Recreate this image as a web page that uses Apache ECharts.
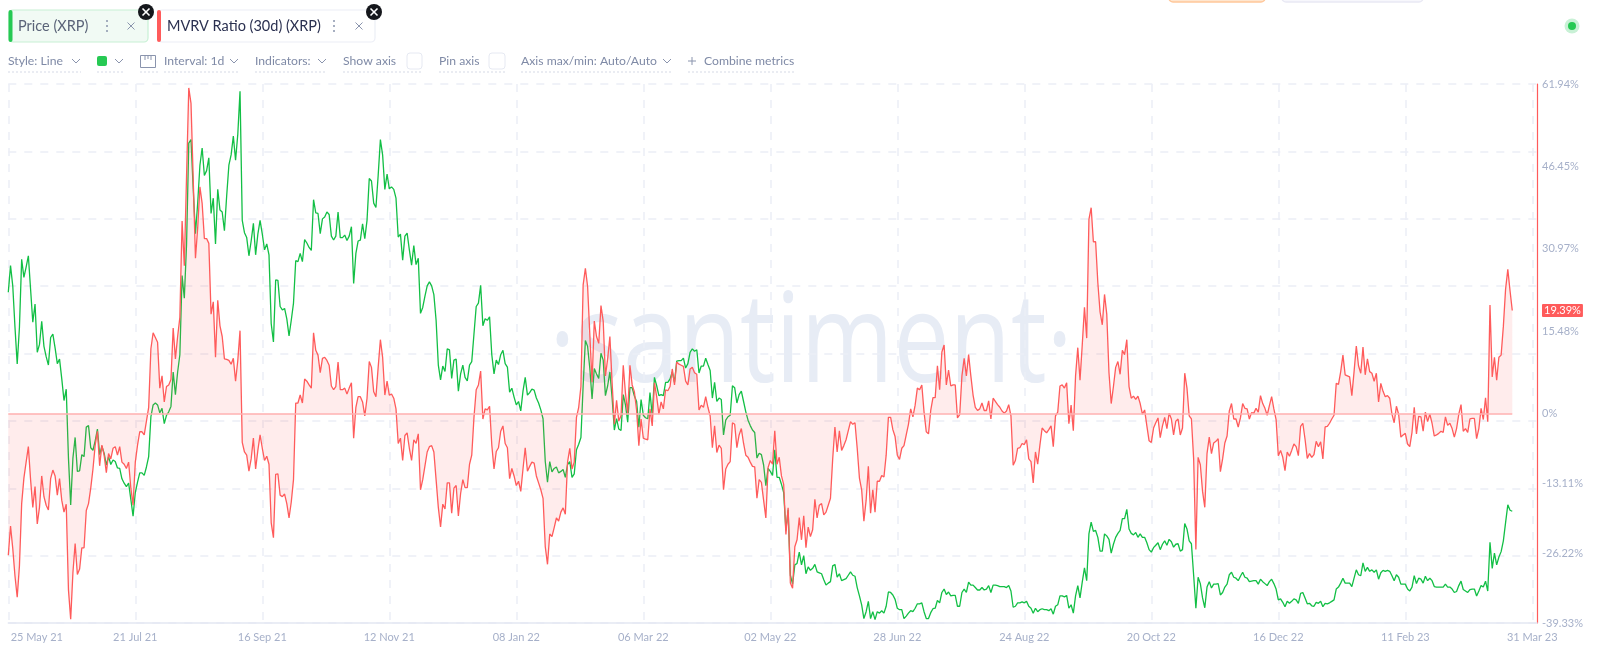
<!DOCTYPE html>
<html>
<head>
<meta charset="utf-8">
<style>html,body{margin:0;padding:0;background:#fff}#c{width:1600px;height:648px}</style>
<script src="https://cdn.jsdelivr.net/npm/echarts@6/dist/echarts.min.js"></script>
</head>
<body>
<div id="c"></div>
<script>
var priceA=[0.972,1.026,0.985,0.901,0.826,0.901,1.039,1.002,1.023,1.046,0.978,0.911,0.948,0.850,0.866,0.913,0.862,0.841,0.824,0.880,0.887,0.859,0.827,0.836,0.796,0.752,0.775,0.635,0.540,0.635,0.677,0.608,0.609,0.642,0.638,0.698,0.701,0.656,0.651,0.670,0.694,0.642,0.659,0.645,0.621,0.638,0.622,0.631,0.628,0.615,0.614,0.593,0.584,0.577,0.584,0.551,0.517,0.565,0.586,0.605,0.605,0.600,0.617,0.638,0.719,0.743,0.747,0.743,0.727,0.736,0.705,0.722,0.729,0.740,0.810,0.764,0.810,0.845,1.006,0.960,1.069,1.275,1.282,1.181,1.091,1.153,1.230,1.265,1.209,1.219,1.245,1.132,1.163,1.070,1.181,1.139,1.135,1.097,1.167,1.230,1.251,1.289,1.240,1.293,1.380,1.118,1.093,1.083,1.046,1.076,1.112,1.048,1.090,1.118,1.090,1.058,1.070,1.048,0.908,0.871,0.997,0.996,0.943,0.936,0.939,0.918,0.883,0.915,0.950,1.036,1.034,1.051,1.034,1.079,1.072,1.063,1.057,1.160,1.133,1.132,1.091,1.121,1.125,1.135,1.130,1.086,1.078,1.086,1.135,1.083,1.083,1.088,1.077,1.086,1.105,0.990,1.051,1.076,1.078,1.111,1.081,1.118,1.203,1.198,1.153,1.144,1.209,1.282,1.251,1.181,1.212,1.182,1.186,1.181,1.163,1.084];
var priceB=[1.090,1.037,1.086,1.092,1.058,1.027,1.067,1.028,1.041,0.929,0.941,0.964,0.985,0.993,0.985,0.967,0.915,0.824,0.794,0.822,0.811,0.857,0.855,0.797,0.834,0.836,0.771,0.806,0.824,0.799,0.792,0.824,0.831,0.887,0.943,0.950,0.986,0.904,0.918,0.915,0.922,0.845,0.806,0.834,0.825,0.845,0.854,0.827,0.820,0.769,0.777,0.759,0.743,0.750,0.731,0.771,0.799,0.763,0.768,0.775,0.773,0.757,0.747,0.733,0.715,0.628,0.586,0.628,0.607,0.614,0.617,0.605,0.608,0.612,0.596,0.622,0.628,0.596,0.603,0.652,0.663,0.677,0.782,0.874,0.862,0.817,0.755,0.817,0.806,0.797,0.848,0.834,0.762,0.782,0.810,0.757,0.692,0.715,0.694,0.691,0.764,0.743,0.708,0.778,0.778,0.761,0.750,0.698,0.754,0.722,0.717,0.715,0.768,0.722,0.799,0.782,0.762,0.764,0.762,0.789,0.789,0.796,0.810,0.789,0.832,0.833,0.833,0.838,0.818,0.827,0.850,0.857,0.852,0.855,0.808,0.822,0.822,0.838,0.825,0.813,0.757,0.789,0.750,0.757,0.754,0.682,0.712,0.719,0.722,0.782,0.778,0.747,0.764,0.771,0.750,0.729,0.712,0.701,0.692,0.687,0.635,0.645,0.642,0.621,0.579,0.614,0.608,0.600,0.652,0.596,0.596,0.582,0.565,0.488,0.530,0.397,0.379,0.418,0.421,0.444];
var priceC=[0.418,0.437,0.400,0.414,0.407,0.411,0.419,0.404,0.402,0.400,0.388,0.377,0.381,0.384,0.416,0.419,0.393,0.400,0.386,0.388,0.390,0.397,0.404,0.397,0.395,0.372,0.355,0.337,0.309,0.323,0.344,0.309,0.323,0.307,0.323,0.320,0.325,0.320,0.334,0.363,0.362,0.357,0.348,0.330,0.327,0.327,0.309,0.314,0.320,0.325,0.323,0.330,0.339,0.339,0.341,0.323,0.309,0.309,0.321,0.329,0.330,0.346,0.341,0.362,0.369,0.358,0.363,0.355,0.356,0.356,0.334,0.334,0.362,0.369,0.362,0.383,0.377,0.377,0.372,0.367,0.367,0.372,0.367,0.369,0.376,0.362,0.377,0.377,0.376,0.374,0.374,0.374,0.372,0.376,0.365,0.332,0.334,0.341,0.341,0.343,0.341,0.344,0.334,0.330,0.320,0.330,0.323,0.327,0.329,0.327,0.327,0.325,0.329,0.318,0.334,0.337,0.355,0.355,0.353,0.356,0.330,0.337,0.320,0.355,0.376,0.351,0.383,0.412,0.386,0.481,0.505,0.486,0.488,0.474,0.446,0.446,0.481,0.477,0.470,0.442,0.460,0.474,0.482,0.488,0.512,0.512,0.531,0.491,0.482,0.479,0.484,0.474,0.481,0.474,0.474,0.463,0.449,0.444,0.453,0.458,0.463,0.449,0.460,0.467,0.458,0.470,0.465,0.454,0.460,0.461,0.446,0.449,0.502,0.491,0.467,0.461,0.397,0.330,0.393];
var priceD=[0.380,0.351,0.331,0.373,0.384,0.371,0.379,0.379,0.380,0.357,0.362,0.373,0.379,0.398,0.403,0.393,0.391,0.386,0.395,0.403,0.393,0.391,0.384,0.385,0.386,0.386,0.379,0.389,0.384,0.380,0.376,0.384,0.389,0.380,0.369,0.347,0.349,0.342,0.333,0.344,0.340,0.344,0.349,0.347,0.340,0.360,0.362,0.351,0.339,0.340,0.335,0.334,0.342,0.340,0.344,0.333,0.340,0.339,0.341,0.344,0.347,0.369,0.373,0.381,0.391,0.381,0.381,0.381,0.374,0.391,0.408,0.398,0.396,0.422,0.405,0.413,0.405,0.408,0.403,0.408,0.389,0.402,0.407,0.405,0.407,0.405,0.396,0.386,0.398,0.393,0.379,0.379,0.379,0.369,0.365,0.373,0.396,0.380,0.391,0.389,0.381,0.395,0.386,0.391,0.386,0.374,0.373,0.373,0.373,0.373,0.379,0.373,0.373,0.369,0.362,0.364,0.376,0.385,0.368,0.365,0.362,0.368,0.369,0.369,0.355,0.365,0.376,0.373,0.385,0.365,0.464,0.411,0.442,0.418,0.434,0.445,0.467,0.504,0.540,0.529,0.527];
var mvrvA=[-26.6,-21.1,-25.3,-30.5,-34.5,-28.6,-16.9,-12.1,-9.1,-6.2,-12.4,-17.6,-13.7,-20.7,-17.6,-11.7,-15.6,-17.2,-18.1,-12.2,-10.6,-11.7,-15.3,-12.2,-16.3,-18.5,-17.0,-33.1,-38.6,-29.9,-24.4,-30.2,-29.2,-25.2,-25.2,-18.2,-16.9,-14.0,-10.4,-5.9,-3.3,-9.8,-5.9,-7.8,-11.1,-7.5,-8.5,-6.5,-6.2,-7.8,-6.2,-9.1,-9.5,-10.3,-9.1,-14.0,-17.2,-9.1,-5.9,-3.4,-3.4,-4.0,-1.4,1.2,12.2,15.2,14.3,13.4,4.8,7.1,2.2,5.1,5.4,6.4,16.1,10.3,14.5,18.1,36.2,27.8,44.6,61.2,58.3,44.0,29.2,34.9,42.6,39.5,32.9,32.9,32.0,18.7,21.0,10.6,21.3,16.5,14.5,10.3,10.2,10.0,9.3,10.4,6.1,10.0,15.6,-5.4,-7.2,-7.8,-10.8,-8.5,-4.6,-10.4,-6.9,-4.0,-6.5,-8.8,-8.0,-9.5,-20.5,-23.3,-11.4,-11.3,-15.3,-15.6,-15.1,-16.9,-19.6,-16.6,-12.4,2.0,2.0,3.5,2.0,6.5,6.1,5.4,4.8,15.2,11.9,11.0,7.7,10.4,10.6,10.0,9.1,5.2,4.5,5.1,9.7,4.5,4.5,4.8,3.7,4.8,5.8,-4.6,1.2,3.2,3.2,2.2,-0.4,2.9,9.8,8.7,4.1,3.2,8.7,13.9,10.6,3.5,6.1,3.5,3.7,2.9,0.9,-5.6];
var mvrvB=[-4.6,-8.8,-4.1,-3.6,-6.5,-8.8,-4.9,-5.6,-3.8,-14.3,-12.4,-9.8,-7.2,-6.2,-6.0,-7.2,-12.4,-17.6,-21.3,-17.0,-17.9,-13.0,-13.0,-18.7,-14.0,-13.5,-19.2,-15.0,-12.4,-13.9,-13.9,-9.5,-7.8,-0.7,4.5,5.4,8.0,-1.0,0.9,0.7,1.4,-5.9,-10.4,-7.1,-6.4,-3.3,-2.3,-5.6,-6.4,-12.2,-10.3,-11.7,-13.5,-12.7,-14.6,-10.4,-6.4,-10.8,-9.9,-9.1,-9.3,-11.7,-13.0,-14.3,-15.9,-25.0,-28.3,-22.6,-23.1,-21.4,-19.6,-20.2,-18.5,-17.7,-18.9,-9.1,-6.5,-10.4,-9.1,-0.7,1.2,5.1,24.2,27.3,23.9,14.8,5.9,17.4,14.5,13.2,20.3,17.4,7.1,10.3,14.5,5.8,-2.0,2.5,-1.4,-0.4,9.1,3.8,0.1,9.1,5.4,4.1,0.6,-6.0,-1.0,-4.6,-4.8,-4.9,0.9,-2.3,5.8,3.2,-0.1,2.2,0.9,4.5,4.3,5.1,8.4,5.4,9.7,9.3,9.1,8.9,6.1,5.4,8.4,8.7,7.7,7.4,0.7,1.6,1.2,3.2,1.2,-0.4,-6.4,-2.3,-7.3,-5.9,-6.5,-14.3,-10.4,-9.5,-9.0,-1.7,-2.0,-6.4,-4.0,-2.8,-5.6,-7.8,-8.2,-9.1,-9.9,-10.0,-15.9,-12.4,-12.9,-16.3,-19.6,-10.1,-8.8,-9.5,-3.2,-9.5,-8.2,-11.7,-13.3,-22.7,-17.7,-31.8,-32.8,-25.0,-23.7,-19.5];
var mvrvC=[-23.7,-19.2,-25.2,-21.3,-23.1,-21.8,-16.1,-19.6,-17.2,-16.9,-19.0,-18.5,-17.2,-15.9,-8.5,-2.5,-7.2,-3.2,-6.9,-6.0,-4.9,-3.2,-1.5,-2.0,-1.7,-6.5,-12.1,-14.3,-20.2,-16.3,-9.9,-18.7,-14.3,-18.5,-12.7,-12.7,-11.6,-11.9,-7.8,-0.7,-0.7,-3.0,-4.3,-7.8,-8.6,-6.5,-6.0,-4.0,-2.0,0.9,-0.6,1.6,4.8,4.5,5.4,0.3,-3.4,-3.8,0.6,3.0,3.0,9.0,4.5,11.6,12.9,5.4,8.2,5.2,5.4,5.4,-0.8,-0.2,7.1,10.4,7.1,11.1,7.1,3.5,1.2,0.6,0.9,2.0,0.6,0.6,2.4,-1.0,2.9,2.3,1.7,1.2,0.5,0.1,0.5,1.7,-0.4,-9.7,-8.8,-6.5,-6.4,-5.6,-5.8,-4.9,-8.5,-9.0,-13.0,-7.2,-9.5,-5.9,-2.7,-3.2,-3.6,-3.0,-2.3,-6.2,-0.4,0.3,5.2,5.4,4.8,5.8,-1.9,1.6,-3.2,7.1,12.4,6.3,12.9,20.0,14.2,36.5,38.7,32.3,32.3,24.6,19.1,16.7,22.4,18.7,7.7,1.9,5.1,8.7,9.8,7.4,11.9,11.1,13.9,5.1,2.9,3.3,2.7,3.3,1.9,-0.1,0.7,-2.3,-5.1,-5.4,-2.7,-1.7,-0.8,-4.5,-2.3,-0.7,-2.8,0.1,-1.0,-4.0,-1.4,-1.0,-4.0,-2.7,7.6,4.8,-0.4,-1.0,-8.5,-25.5,-8.2];
var mvrvD=[-9.6,-14.6,-17.6,-7.5,-4.4,-7.5,-5.5,-5.2,-4.7,-10.9,-8.5,-5.5,-4.2,0.5,1.9,-1.0,-1.0,-2.5,-0.8,1.9,1.0,0.9,-1.0,0.2,0.1,1.0,0.3,3.4,1.9,1.0,-0.3,1.5,3.2,0.9,-1.1,-7.9,-6.9,-8.2,-10.7,-7.2,-8.0,-6.9,-5.7,-6.2,-7.9,-2.4,-1.8,-4.8,-8.4,-7.5,-8.2,-7.7,-5.2,-6.2,-5.3,-8.5,-2.5,-2.4,-1.8,-1.0,-0.3,5.7,5.5,7.9,11.0,7.3,7.1,6.9,3.4,7.9,12.7,9.0,7.6,12.5,7.3,10.3,7.9,7.6,6.1,7.6,2.2,5.7,4.2,3.2,3.4,2.9,-0.1,-1.7,1.4,-0.1,-4.4,-4.0,-3.7,-5.7,-6.2,-3.5,1.2,-3.8,-0.5,-0.6,-3.3,0.3,-1.5,-0.1,-1.8,-4.2,-4.0,-3.7,-3.3,-3.5,-0.6,-2.2,-1.8,-2.8,-4.4,-2.8,-0.1,1.7,-3.3,-2.8,-3.5,-1.0,-0.9,-0.9,-4.7,-2.8,1.0,-1.1,3.0,-1.5,20.4,6.9,10.6,6.3,10.6,11.0,16.4,23.4,27.1,23.1,19.39];
var chunkStartDays=[0,176,356,535];
var axisEndDays=686.1;
var xTickLabels=['25 May 21','21 Jul 21','16 Sep 21','12 Nov 21','08 Jan 22','06 Mar 22','02 May 22','28 Jun 22','24 Aug 22','20 Oct 22','16 Dec 22','11 Feb 23','31 Mar 23'];
var xTickDays=[0,57,114,171,228,285,342,399,456,513,570,627,675];
var yTickValues=[-39.33,-26.22,-13.11,0,15.48,30.97,46.45,61.94];
var latestMvrv=19.39;

function build(chunks){var o=[];chunks.forEach(function(c,k){c.forEach(function(v,i){o.push([chunkStartDays[k]+i,v]);});});return o;}
var priceData=build([priceA,priceB,priceC,priceD]);
var mvrvData=build([mvrvA,mvrvB,mvrvC,mvrvD]);
var lastDay=675;
var FONT='Lato, "Noto Sans", sans-serif', GREY='#7f8aa6', AX='#a6b0c9', TB=12.2;
var g=[];
function rect(x,y,w,h,fill,stroke,r,lw){g.push({type:'rect',z:10,silent:true,shape:{x:x,y:y,width:w,height:h,r:r||0},style:{fill:fill||'transparent',stroke:stroke||null,lineWidth:lw||1}});}
function text(t,x,y,size,color,align,w){g.push({type:'text',z:11,silent:true,x:x,y:y,style:{text:t,font:(w||'400')+' '+size+'px '+FONT,fill:color,textAlign:align||'left',textVerticalAlign:'middle'}});}
function line(pts,color,lw,dash,z){g.push({type:'polyline',z:z||11,silent:true,shape:{points:pts},style:{stroke:color,lineWidth:lw||1,fill:null,lineDash:dash||null}});}
function chev(x,y){line([[x-4,y-2],[x,y+2],[x+4,y-2]],'#8a94ad',1);}
function dots(x1,x2){line([[x1,72],[x2,72]],'#d5d9e6',1,[2,2]);}
function closeBadge(x,y){g.push({type:'circle',z:12,silent:true,shape:{cx:x,cy:y,r:8},style:{fill:'#15171c'}});
 line([[x-3.5,y-3.5],[x+3.5,y+3.5]],'#fff',1.6,null,13);line([[x-3.5,y+3.5],[x+3.5,y-3.5]],'#fff',1.6,null,13);}
function vdots(x){[-5,0,5].forEach(function(d){g.push({type:'circle',z:11,silent:true,shape:{cx:x,cy:26+d,r:1},style:{fill:'#8a94ad'}});});}
function cross(x,y){line([[x-3.5,y-3.5],[x+3.5,y+3.5]],'#8a94ad',1);line([[x-3.5,y+3.5],[x+3.5,y-3.5]],'#8a94ad',1);}
// chips
rect(9,10,139,32,'#f1faf4','#c7f0d4',4,1.2);rect(8.5,10,4,32,'#26c953',null,2);
text('Price (XRP)',18,26,14.5,'#5a6378');vdots(107);cross(131,26);closeBadge(146,12);
rect(158,10,217,32,'#fff','#eceef6',4,1.2);rect(157,10,4,32,'#ff5b5b',null,2);
text('MVRV Ratio (30d) (XRP)',167,26,14.5,'#2a3050');vdots(334);cross(359,26);closeBadge(374,12);
// toolbar
text('Style: Line',8,61,TB,GREY);chev(76,61);dots(8,81);
rect(97,56,10,10,'#26c953',null,2);chev(119,61);dots(97,124);
rect(140.5,55.5,15,12,'#fff','#8a94ad',0,1);line([[145,55.5],[145,60]],'#8a94ad',1);line([[148,55.5],[148,59]],'#8a94ad',1);line([[151,55.5],[151,60]],'#8a94ad',1);
dots(140,158);text('Interval: 1d',164,61,TB,GREY);chev(234,61);dots(164,239);
text('Indicators:',255,61,TB,GREY);chev(322,61);dots(255,327);
text('Show axis',343,61,TB,GREY);rect(407,53,15,16,'#fff','#e6e9f2',3);dots(343,422);
text('Pin axis',439,61,TB,GREY);rect(489,53,16,16,'#fff','#e6e9f2',3);dots(439,505);
text('Axis max/min: Auto/Auto',521,61,TB,GREY);chev(667,61);dots(521,672);
line([[688,61],[696,61]],'#8a94ad',1);line([[692,57],[692,65]],'#8a94ad',1);text('Combine metrics',704,61,TB,GREY);dots(688,795);
// top-edge buttons and status dot
rect(1169,-10,96,12,'#ffe6cf','#ffc79a',4,1.5);rect(1282,-10,141,12,'#f7f7fc','#e9e9f4',4,1.5);
g.push({type:'circle',z:11,silent:true,shape:{cx:1572,cy:26,r:7.5},style:{fill:'#c9f1d6'}});
g.push({type:'circle',z:12,silent:true,shape:{cx:1572,cy:26,r:4},style:{fill:'#26c953'}});
// watermark
g.push({type:'text',z:-1,silent:true,x:811,y:284,scaleX:0.8,style:{text:'\u00b7santiment\u00b7',font:'400 125px "Open Sans", sans-serif',fill:'#e7ecf5',textAlign:'center',textVerticalAlign:'top'}});

var option={
 animation:false,backgroundColor:'#fff',textStyle:{fontFamily:FONT},
 grid:{left:8.3,right:63,top:84,bottom:25,containLabel:false},
 graphic:g,
 xAxis:{type:'value',min:0,max:axisEndDays,interval:57,
   axisLine:{show:true,onZero:false,lineStyle:{color:'#e4e7f2',width:1.5}},axisTick:{show:false},
   splitLine:{show:true,showMaxLine:false,lineStyle:{type:[8,8],color:'#ebeef6',width:1.5}},
   axisLabel:{show:true,customValues:xTickDays,hideOverlap:false,showMinLabel:true,showMaxLabel:true,margin:9,color:AX,fontSize:11,fontFamily:FONT,
     formatter:function(v){var i=xTickDays.indexOf(v);var t=xTickLabels[i];if(i===0)return '{first|'+t+'}';if(i===xTickLabels.length-1)return '{last|'+t+'}';return t;},
     rich:{first:{padding:[0,0,0,57],color:AX,fontSize:11},last:{padding:[0,0,0,40],color:AX,fontSize:11}}}},
 yAxis:[{type:'value',position:'right',min:-39.33,max:61.94,
   axisLine:{show:true,onZero:false,lineStyle:{color:'#ff5b5b',width:1.2}},axisTick:{show:false},splitLine:{show:false},
   axisLabel:{show:true,customValues:yTickValues.concat([latestMvrv]),hideOverlap:false,margin:5,color:AX,fontSize:11,fontFamily:FONT,
     formatter:function(v){return v===latestMvrv?'{badge|'+v.toFixed(2)+'%}':(v===0?'0%':v.toFixed(2)+'%');},
     rich:{badge:{backgroundColor:'#ff5b5b',color:'#fff',fontSize:11,padding:[1,2,1,2],borderRadius:1}}}},
  {type:'value',min:0.30,max:1.395,show:false},
  {type:'value',min:0,max:8,interval:1,position:'left',axisLine:{show:false},axisTick:{show:false},axisLabel:{show:false},
   splitLine:{show:true,lineStyle:{type:[8,8],color:'#ebeef6',width:1.5}}}],
 series:[
  {name:'Price (XRP)',type:'line',yAxisIndex:1,data:priceData,showSymbol:false,z:3,lineStyle:{color:'#12bf45',width:1.3},itemStyle:{color:'#12bf45'}},
  {name:'MVRV Ratio (30d) (XRP)',type:'line',yAxisIndex:0,data:mvrvData,showSymbol:false,z:4,lineStyle:{color:'#ff5b5b',width:1.3},itemStyle:{color:'#ff5b5b'},
   areaStyle:{origin:0,color:'rgba(255,91,91,0.17)'},
   markLine:{silent:true,symbol:'none',animation:false,label:{show:false},lineStyle:{color:'#ffb0b0',width:1.5,type:'solid'},data:[[{coord:[0,0]},{coord:[lastDay,0]}]]}}
 ]
};
echarts.init(document.getElementById('c'),null,{renderer:'canvas'}).setOption(option);
</script>
</body>
</html>
